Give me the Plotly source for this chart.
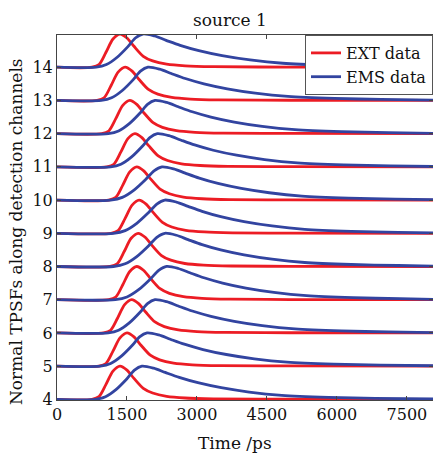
import plotly.graph_objects as go

# channel offsets
channels = [4, 5, 6, 7, 8, 9, 10, 11, 12, 13, 14]

# EXT data (red) : times (ps) and normalised values
ext_val = [0, 0, 0.08, 0.45, 0.85, 1.0, 0.88, 0.63, 0.33, 0.19, 0.09, 0.04, 0.015, 0.005, 0]
ext_t_4 = [0, 750, 900, 1050, 1200, 1350, 1500, 1650, 1850, 2050, 2350, 2750, 3350, 5000, 8100]
ext_t_5 = [0, 900, 1050, 1200, 1350, 1500, 1650, 1800, 2000, 2200, 2500, 2900, 3500, 5000, 8100]
ext_t_6 = [0, 1000, 1150, 1300, 1450, 1600, 1750, 1900, 2100, 2300, 2600, 3000, 3600, 5000, 8100]
ext_t_7 = [0, 1110, 1260, 1410, 1560, 1710, 1860, 2010, 2210, 2410, 2710, 3110, 3710, 5000, 8100]
ext_t_8 = [0, 1140, 1290, 1440, 1590, 1740, 1890, 2040, 2240, 2440, 2740, 3140, 3740, 5000, 8100]
ext_t_9 = [0, 1160, 1310, 1460, 1610, 1760, 1910, 2060, 2260, 2460, 2760, 3160, 3760, 5000, 8100]
ext_t_10 = [0, 1110, 1260, 1410, 1560, 1710, 1860, 2010, 2210, 2410, 2710, 3110, 3710, 5000, 8100]
ext_t_11 = [0, 1070, 1220, 1370, 1520, 1670, 1820, 1970, 2170, 2370, 2670, 3070, 3670, 5000, 8100]
ext_t_12 = [0, 960, 1110, 1260, 1410, 1560, 1710, 1860, 2060, 2260, 2560, 2960, 3560, 5000, 8100]
ext_t_13 = [0, 860, 1010, 1160, 1310, 1460, 1610, 1760, 1960, 2160, 2460, 2860, 3460, 5000, 8100]
ext_t_14 = [0, 750, 900, 1050, 1200, 1350, 1500, 1650, 1850, 2050, 2350, 2750, 3350, 5000, 8100]

# EMS data (blue)
ems_val = [0, 0, 0.08, 0.30, 0.62, 0.88, 1.0, 0.94, 0.81, 0.66, 0.50, 0.35, 0.22, 0.12, 0.06, 0.03, 0.01]
ems_t_4 = [0, 820, 1040, 1270, 1500, 1660, 1820, 2070, 2320, 2620, 3020, 3520, 4120, 4820, 5820, 6820, 8100]
ems_t_5 = [0, 930, 1150, 1380, 1610, 1770, 1930, 2180, 2430, 2730, 3130, 3630, 4230, 4930, 5930, 6930, 8100]
ems_t_6 = [0, 1100, 1320, 1550, 1780, 1940, 2100, 2350, 2600, 2900, 3300, 3800, 4400, 5100, 6100, 7100, 8100]
ems_t_7 = [0, 1250, 1500, 1750, 2000, 2180, 2350, 2600, 2850, 3150, 3550, 4050, 4650, 5350, 6350, 7350, 8100]
ems_t_8 = [0, 1210, 1460, 1710, 1960, 2140, 2310, 2560, 2810, 3110, 3510, 4010, 4610, 5310, 6310, 7310, 8100]
ems_t_9 = [0, 1210, 1460, 1710, 1960, 2140, 2310, 2560, 2810, 3110, 3510, 4010, 4610, 5310, 6310, 7310, 8100]
ems_t_10 = [0, 1150, 1400, 1650, 1900, 2080, 2250, 2500, 2750, 3050, 3450, 3950, 4550, 5250, 6250, 7250, 8100]
ems_t_11 = [0, 1150, 1370, 1600, 1830, 1990, 2150, 2400, 2650, 2950, 3350, 3850, 4450, 5150, 6150, 7150, 8100]
ems_t_12 = [0, 1100, 1320, 1550, 1780, 1940, 2100, 2350, 2600, 2900, 3300, 3800, 4400, 5100, 6100, 7100, 8100]
ems_t_13 = [0, 950, 1170, 1400, 1630, 1790, 1950, 2200, 2450, 2750, 3150, 3650, 4250, 4950, 5950, 6950, 8100]
ems_t_14 = [0, 840, 1060, 1290, 1520, 1680, 1840, 2090, 2340, 2640, 3040, 3540, 4140, 4840, 5840, 6840, 8100]

ext_times = [ext_t_4, ext_t_5, ext_t_6, ext_t_7, ext_t_8, ext_t_9, ext_t_10, ext_t_11, ext_t_12, ext_t_13, ext_t_14]
ems_times = [ems_t_4, ems_t_5, ems_t_6, ems_t_7, ems_t_8, ems_t_9, ems_t_10, ems_t_11, ems_t_12, ems_t_13, ems_t_14]

x_ticks = [0, 1500, 3000, 4500, 6000, 7500]
y_ticks = [4, 5, 6, 7, 8, 9, 10, 11, 12, 13, 14]

RED = "#ec1c24"
BLUE = "#3244a0"
FONT = "DejaVu Serif"

fig = go.Figure()
for i, ch in enumerate(channels):
    fig.add_trace(go.Scatter(
        x=ext_times[i], y=[ch + v for v in ext_val], mode="lines",
        line=dict(color=RED, width=2.8, shape="spline", smoothing=0.8),
        name="EXT data", legendgroup="ext", showlegend=(i == 0)))
    fig.add_trace(go.Scatter(
        x=ems_times[i], y=[ch + v for v in ems_val], mode="lines",
        line=dict(color=BLUE, width=2.8, shape="spline", smoothing=0.8),
        name="EMS data", legendgroup="ems", showlegend=(i == 0)))

fig.update_layout(
    width=433, height=455,
    margin=dict(l=57, r=0, t=35, b=55),
    paper_bgcolor="white", plot_bgcolor="white",
    font=dict(family=FONT, size=16, color="#111"),
    showlegend=True,
    legend=dict(x=1.0, xanchor="right", y=1.0, yanchor="top",
                bgcolor="white", bordercolor="#555", borderwidth=1,
                font=dict(family=FONT, size=16, color="#111"),
                tracegroupgap=0, itemwidth=30),
    xaxis=dict(range=[0, 8060], tickvals=x_ticks, ticktext=[str(v) for v in x_ticks],
               ticks="inside", ticklen=4, tickcolor="#444", showline=True, mirror="ticks",
               linecolor="#444", linewidth=1, showgrid=False, zeroline=False,
               tickfont=dict(family=FONT, size=16)),
    yaxis=dict(range=[3.98, 14.97], tickvals=y_ticks, ticktext=[str(v) for v in y_ticks],
               ticks="inside", ticklen=4, tickcolor="#444", showline=True, mirror="ticks",
               linecolor="#444", linewidth=1, showgrid=False, zeroline=False,
               tickfont=dict(family=FONT, size=16)),
    annotations=[
        dict(text="source 1", xref="paper", yref="paper", x=(230 - 57) / 376, y=1.0,
             yshift=15, xanchor="center", yanchor="middle", showarrow=False,
             font=dict(family=FONT, size=17)),
        dict(text="Time /ps", xref="paper", yref="paper", x=(235 - 57) / 376, y=0,
             yshift=-43, xanchor="center", yanchor="middle", showarrow=False,
             font=dict(family=FONT, size=17)),
        dict(text="Normal TPSFs along detection channels", xref="paper", yref="paper",
             x=0, xshift=-41, y=0.46, xanchor="center", yanchor="middle", textangle=-90,
             showarrow=False, font=dict(family=FONT, size=17)),
    ],
)

fig.write_html("out.html", config={"displayModeBar": False},
               post_script="document.body.style.margin='0';document.body.style.padding='0';")
